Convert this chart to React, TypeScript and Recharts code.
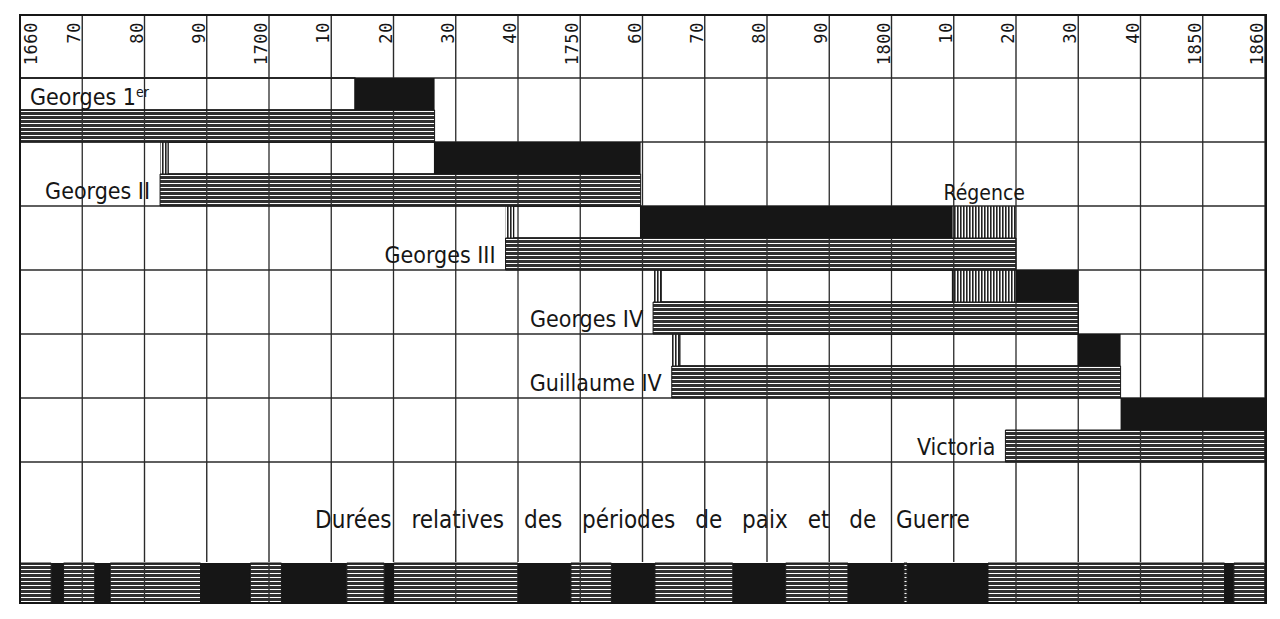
import React from 'react';
import { ComposedChart, Bar, XAxis, YAxis, CartesianGrid, LabelList, Label } from 'recharts';

// decade grid, 1660 -> 1860
const decades = [1660, 1670, 1680, 1690, 1700, 1710, 1720, 1730, 1740, 1750, 1760, 1770, 1780, 1790, 1800, 1810, 1820, 1830, 1840, 1850, 1860];
const decadeLabels = ['1660', '70', '80', '90', '1700', '10', '20', '30', '40', '1750', '60', '70', '80', '90', '1800', '10', '20', '30', '40', '1850', '1860'];

// sovereigns (years)
const kings = ['Georges 1er', 'Georges II', 'Georges III', 'Georges IV', 'Guillaume IV', 'Victoria'];
const born = [1660, 1682.5, 1738, 1761.7, 1764.7, 1818.3];
const crowned = [1713.8, 1726.6, 1759.7, 1820, 1830, 1836.8];
const reignEnd = [1726.6, 1759.7, 1820, 1830, 1836.8, 1860];
const lifeEnd = [1726.6, 1759.7, 1820, 1830, 1836.8, 1860];
const regencyFrom: (number | null)[] = [null, null, 1809.8, 1809.8, null, null];
const regencyTo: (number | null)[] = [null, null, 1820, 1820, null, null];
const preReignBox = [true, true, true, true, true, false];

// alternating periods, starting with peace
const periodBounds = [1660, 1665, 1667, 1672, 1674.5, 1689, 1697, 1702, 1712.5, 1718.5, 1720, 1740, 1748.5, 1755, 1762, 1774.5, 1783, 1793, 1802, 1802.5, 1815.5, 1853.5, 1855, 1860];

const TITLE = 'Durées relatives des périodes de paix et de Guerre';

const INK = '#161616';
const LINE = '#2a2a2a';
const NUM_FONT = "'DejaVu Sans Mono', 'Liberation Mono', monospace";
const NAME_FONT = "'DejaVu Sans Condensed', 'Liberation Sans Narrow', 'DejaVu Sans', sans-serif";
const STRIP = 1.3; // little hatched band at birth
const HEADER_H = 63;
const TITLE_H = 100;

const rows = kings.map((name, i) => {
  const b = born[i];
  const c = crowned[i];
  const e = reignEnd[i];
  const rf = regencyFrom[i];
  const rt = regencyTo[i];
  const box = preReignBox[i];
  const strip = box && b > decades[0] ? STRIP : 0;
  const regentFirst = rf !== null && rf < c;
  const boxEnd = regentFirst ? (rf as number) : c;
  return {
    name,
    upOff: box ? b : c,
    strip,
    white: box ? boxEnd - b - strip : 0,
    blackA: rf === null ? e - c : regentFirst ? 0 : (rf as number) - c,
    regency: rf === null ? 0 : (rt as number) - (rf as number),
    blackB: regentFirst ? e - c : 0,
    lowOff: b,
    life: lifeEnd[i] - b,
    upLabel: i === 0 ? name : null,
    lowLabel: i === 0 ? null : name,
    regLabel: i === 2 ? 'Régence' : null,
  };
});

const periodRow: Record<string, any> = { name: 'paix-guerre', start: periodBounds[0] };
const periodKeys = periodBounds.slice(1).map((end, i) => {
  const key = `p${i}`;
  periodRow[key] = end - periodBounds[i];
  return key;
});

const Patterns = () => (
  <defs>
    <pattern id="hz" width="6" height="4" patternUnits="userSpaceOnUse">
      <rect x="0" y="0" width="6" height="3" fill="#303030" />
    </pattern>
    <pattern id="vt" width="3" height="6" patternUnits="userSpaceOnUse">
      <rect x="0" y="0" width="1.6" height="6" fill="#222" />
    </pattern>
  </defs>
);

const HeaderTick = (props: any) => {
  const { x, y, index } = props;
  const top = y - HEADER_H;
  const tx = index === 0 ? x + 17 : x - 2;
  return (
    <g>
      <line x1={x} x2={x} y1={top} y2={y} stroke={LINE} strokeWidth={1.4} />
      <text
        transform={`translate(${tx},${top + 7}) rotate(-90)`}
        textAnchor="end"
        fontFamily={NUM_FONT}
        fontSize={17}
        letterSpacing={0.6}
        fill={INK}
      >
        {decadeLabels[index]}
      </text>
    </g>
  );
};

const FooterTick = (props: any) => {
  const { x, y } = props;
  return <line x1={x} x2={x} y1={y} y2={y + TITLE_H} stroke={LINE} strokeWidth={1.4} />;
};

const TitleLabel = (props: any) => {
  const vb = props.viewBox || {};
  const cx = vb.x + vb.width / 2;
  const cy = vb.y + vb.height / 2;
  return (
    <text x={cx} y={cy + 16} textAnchor="middle" fontFamily={NAME_FONT} fontSize={24} wordSpacing={13} fill={INK}>
      {TITLE}
    </text>
  );
};

const nameLabel = (anchor: 'start' | 'end', lift: number) => (props: any) => {
  const { value } = props;
  if (value == null) return null;
  const vb = props.viewBox ?? props;
  const x = anchor === 'start' ? vb.x + 10 : vb.x + vb.width - 10;
  const y = vb.y + vb.height - lift;
  const parts = String(value).match(/^(.*\d)(er)$/);
  return (
    <text x={x} y={y} textAnchor={anchor} fontFamily={NAME_FONT} fontSize={23} fill={INK}>
      {parts ? (
        <>
          {parts[1]}
          <tspan dy={-8} fontSize={14}>{parts[2]}</tspan>
        </>
      ) : (
        value
      )}
    </text>
  );
};

const rowLines = ({ offset }: any) => {
  const out: number[] = [];
  for (let i = 0; i <= kings.length; i++) out.push(offset.top + (i * offset.height) / kings.length);
  return out;
};

export default function App() {
  return (
    <div style={{ position: 'absolute', left: 0, top: 0, width: 1280, height: 619, background: '#fff' }}>
      <div style={{ position: 'absolute', left: 0, top: 0 }}>
        <ComposedChart
          layout="vertical"
          width={1280}
          height={562}
          data={rows}
          margin={{ top: 15, right: 15, bottom: 0, left: 20 }}
          barCategoryGap={0}
          barGap={0}
        >
          <Patterns />
          <CartesianGrid xAxisId="top" stroke={LINE} strokeWidth={1.3} horizontalCoordinatesGenerator={rowLines} />
          <XAxis
            xAxisId="top"
            orientation="top"
            type="number"
            domain={[1660, 1860]}
            ticks={decades}
            interval={0}
            height={HEADER_H}
            tickSize={0}
            tickMargin={0}
            axisLine={false}
            tick={<HeaderTick />}
            allowDataOverflow
          />
          <XAxis
            xAxisId="bottom"
            orientation="bottom"
            type="number"
            domain={[1660, 1860]}
            ticks={decades}
            interval={0}
            height={TITLE_H}
            tickSize={0}
            tickMargin={0}
            axisLine={false}
            tick={<FooterTick />}
            allowDataOverflow
          >
            <Label content={TitleLabel} />
          </XAxis>
          <YAxis type="category" dataKey="name" hide />

          <Bar xAxisId="top" dataKey="upOff" stackId="up" fill="transparent" isAnimationActive={false} />
          <Bar xAxisId="top" dataKey="strip" stackId="up" fill="url(#vt)" isAnimationActive={false} />
          <Bar xAxisId="top" dataKey="white" stackId="up" fill="none" stroke={INK} strokeWidth={1.3} isAnimationActive={false}>
            <LabelList dataKey="upLabel" content={nameLabel('start', 5)} />
          </Bar>
          <Bar xAxisId="top" dataKey="blackA" stackId="up" fill={INK} isAnimationActive={false} />
          <Bar xAxisId="top" dataKey="regency" stackId="up" fill="url(#vt)" isAnimationActive={false}>
            <LabelList dataKey="regLabel" position="top" offset={6} fill={INK} fontSize={21} fontFamily={NAME_FONT} />
          </Bar>
          <Bar xAxisId="top" dataKey="blackB" stackId="up" fill={INK} isAnimationActive={false} />

          <Bar xAxisId="top" dataKey="lowOff" stackId="low" fill="transparent" isAnimationActive={false}>
            <LabelList dataKey="lowLabel" content={nameLabel('end', 7)} />
          </Bar>
          <Bar xAxisId="top" dataKey="life" stackId="low" fill="url(#hz)" stroke={INK} strokeWidth={1} isAnimationActive={false} />
        </ComposedChart>
      </div>

      <div style={{ position: 'absolute', left: 0, top: 562 }}>
        <ComposedChart
          layout="vertical"
          width={1280}
          height={41}
          data={[periodRow]}
          margin={{ top: 1, right: 15, bottom: 0, left: 20 }}
          barCategoryGap={0}
        >
          <CartesianGrid horizontal={false} stroke={LINE} strokeWidth={1.3} />
          <XAxis type="number" domain={[1660, 1860]} ticks={decades} interval={0} hide allowDataOverflow />
          <YAxis type="category" dataKey="name" hide />
          <Bar dataKey="start" stackId="pw" fill="transparent" isAnimationActive={false} />
          {periodKeys.map((k, i) => (
            <Bar
              key={k}
              dataKey={k}
              stackId="pw"
              fill={i % 2 === 0 ? 'url(#hz)' : INK}
              stroke={i % 2 === 0 ? INK : 'none'}
              strokeWidth={1}
              isAnimationActive={false}
            />
          ))}
        </ComposedChart>
      </div>

      <div
        style={{
          position: 'absolute',
          left: 19,
          top: 14,
          width: 1244,
          height: 586,
          border: `2px solid ${INK}`,
          pointerEvents: 'none',
        }}
      />
    </div>
  );
}
